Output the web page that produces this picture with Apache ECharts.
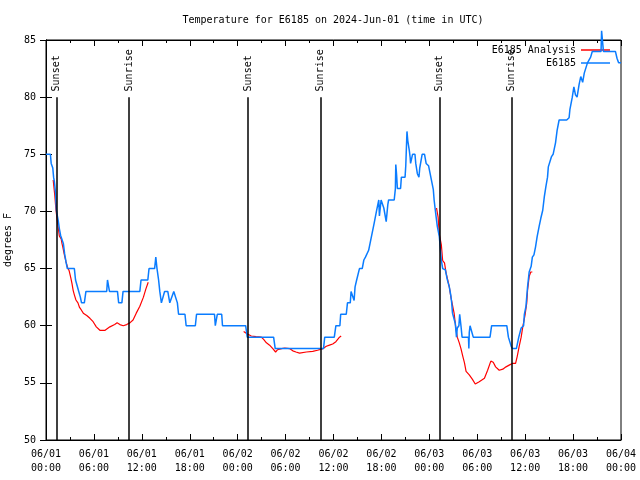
<!DOCTYPE html>
<html>
<head>
<meta charset="utf-8">
<script src="https://cdn.jsdelivr.net/npm/echarts@6/dist/echarts.min.js"></script>
<style>html,body{margin:0;padding:0;background:#fff}#c{width:640px;height:480px}</style>
</head>
<body>
<div id="c"></div>
<script>
// x values are hours since 2024-06-01 00:00 UTC
var xTickLabels = ['06/01\n00:00','06/01\n06:00','06/01\n12:00','06/01\n18:00','06/02\n00:00','06/02\n06:00','06/02\n12:00','06/02\n18:00','06/03\n00:00','06/03\n06:00','06/03\n12:00','06/03\n18:00','06/04\n00:00'];

// observed E6185 temperature [hour, degF]
var obsPoints = [[0,75],[0.55,75],[0.65,74.2],[0.85,73.8],[0.95,73],[1.05,72.6],[1.2,71.6],[1.3,70.1],[1.45,69.5],[1.55,69.1],[1.67,68.5],[1.83,67.9],[2.0,67.8],[2.17,67.2],[2.33,66.3],[2.5,65.6],[2.67,65],[3.55,65],[3.7,64],[3.9,64],[4.1,63],[4.3,62.5],[4.45,62],[4.8,62],[5.0,63],[7.6,63],[7.7,64],[7.85,64],[7.95,63],[8.95,63],[9.1,62],[9.5,62],[9.65,63],[11.75,63],[11.9,64],[12.75,64],[12.9,65],[13.6,65],[13.75,66],[13.9,65],[14.1,64],[14.25,63],[14.45,62],[14.6,62],[14.85,63],[15.25,63],[15.5,62],[15.65,62],[16.0,63],[16.25,63],[16.45,62],[16.6,61],[17.4,61],[17.55,60],[18.7,60],[18.85,61],[21.1,61],[21.2,60],[21.35,60],[21.45,61],[22.0,61],[22.1,60],[25.0,60],[25.2,59],[28.5,59],[28.7,58],[34.75,58],[34.9,59],[36.1,59],[36.3,60],[36.8,60],[36.9,61],[37.6,61],[37.75,62],[38.1,62],[38.2,63],[38.4,62.9],[38.58,62.2],[38.7,63.4],[38.9,64],[39.25,65],[39.6,65],[39.8,65.75],[40.0,66],[40.4,66.6],[40.75,67.8],[41.1,69],[41.4,70.1],[41.67,71],[41.75,69.6],[41.96,71],[42.3,70.3],[42.6,69.1],[42.8,70.6],[42.9,71],[43.6,71],[43.75,72],[43.8,74.1],[43.9,73.2],[44.0,72],[44.4,72],[44.5,73],[44.96,73],[45.05,74],[45.2,77],[45.25,76.9],[45.3,76.2],[45.5,75.3],[45.6,74.7],[45.65,74.2],[45.9,75],[46.2,75],[46.3,74.2],[46.5,73.3],[46.7,73],[46.8,73.8],[47.1,75],[47.4,75],[47.6,74.2],[47.9,74],[48.1,73.3],[48.3,72.6],[48.5,71.9],[48.6,71],[48.8,69.8],[49.0,68.7],[49.25,67.8],[49.5,65.75],[49.67,65],[50.0,64.9],[50.2,64.2],[50.3,63.9],[50.5,63.4],[50.7,62.6],[50.8,62],[50.9,61.1],[51.1,61],[51.25,60.2],[51.4,59],[51.5,59.8],[51.7,60],[51.8,61],[51.96,60],[52.1,59],[52.9,59],[52.95,58],[53.0,59.4],[53.1,60],[53.3,60],[53.5,59],[55.6,59],[55.8,60],[57.7,60],[57.9,59],[58.1,59],[58.25,58.2],[58.4,58],[58.9,58],[59.2,59],[59.4,59],[59.5,59.8],[59.8,60],[59.9,61],[60.1,61.7],[60.3,63.4],[60.5,64.7],[60.75,65.2],[60.9,66],[61.1,66.2],[61.3,66.9],[61.5,67.8],[61.75,68.7],[61.96,69.4],[62.2,70.1],[62.4,71.3],[62.6,72.2],[62.8,73],[62.9,73.9],[63.1,74],[63.3,74.8],[63.5,75],[63.75,75.1],[63.8,76],[64.0,77.1],[64.2,77.1],[64.25,78],[65.2,78],[65.5,78.2],[65.6,78.9],[65.8,79],[65.9,80],[66.1,80.9],[66.3,80.2],[66.5,80],[66.75,81.1],[66.96,81.8],[67.2,81.3],[67.4,82.1],[67.6,82.2],[67.8,83],[68.0,83.1],[68.2,83.5],[68.4,84],[69.5,84],[69.57,85.8],[69.72,85.8],[69.8,84],[71.3,84],[71.5,83.4],[71.7,83],[72.0,83]];

// analysis runs [hour, degF]
var anaRun1 = [[0.9,72.75],[1.1,71.4],[1.25,70.1],[1.45,69],[1.67,67.85],[1.9,67.6],[2.0,67.2],[2.1,66.9],[2.3,66.2],[2.5,65.6],[2.7,65.1],[2.9,64.8],[3.1,64.2],[3.25,63.7],[3.4,63.1],[3.55,62.7],[3.75,62.25],[4.0,62],[4.2,61.6],[4.4,61.4],[4.67,61.1],[5.1,60.9],[5.5,60.65],[5.9,60.35],[6.3,59.9],[6.75,59.6],[7.4,59.6],[8.0,59.9],[8.6,60.1],[8.9,60.25],[9.25,60.1],[9.67,60.0],[10.1,60.1],[10.5,60.25],[10.9,60.5],[11.3,61.1],[11.75,61.7],[12.2,62.5],[12.5,63.2],[12.8,63.8]];
var anaRun2 = [[24.75,59.5],[25.17,59.3],[25.7,59.1],[26.3,59.05],[26.96,59.0],[27.25,58.8],[27.6,58.5],[28.0,58.3],[28.4,58.0],[28.75,57.7],[29.0,57.9],[29.5,58.0],[29.9,58.05],[30.5,58.0],[30.9,57.8],[31.3,57.7],[31.75,57.6],[32.6,57.7],[33.4,57.75],[34.0,57.85],[34.7,58.0],[35.1,58.2],[35.5,58.3],[35.9,58.4],[36.3,58.6],[36.75,59.0],[36.96,59.1]];
var anaRun3 = [[48.9,70.3],[49.1,69.5],[49.25,68],[49.5,67.1],[49.67,65.7],[49.9,65.5],[50.1,64.6],[50.3,64.0],[50.5,63.4],[50.7,62.5],[50.9,61.8],[51.1,61.1],[51.3,59.9],[51.5,59],[51.75,58.5],[51.96,58],[52.2,57.3],[52.4,56.75],[52.6,56.0],[52.8,55.9],[53.0,55.7],[53.4,55.3],[53.75,54.9],[54.25,55.1],[54.9,55.4],[55.3,56.1],[55.7,56.9],[56.0,56.8],[56.3,56.4],[56.75,56.1],[57.2,56.2],[57.6,56.4],[58.0,56.55],[58.4,56.7],[58.8,56.7],[59.0,57.3],[59.25,58.2],[59.5,59.0],[59.7,59.9],[60.0,61],[60.2,62],[60.3,63.1],[60.5,64.3],[60.7,64.7],[60.9,64.7]];

var eventHours = [1.3,10.4,25.3,34.4,49.3,58.3];
var eventLabels = ['Sunset','Sunrise','Sunset','Sunrise','Sunset','Sunrise'];
var eventLineTop = 80;
var eventLabelBase = 80.5;

var FONT = 'DejaVu Sans Mono';
var RED = '#ff0000', BLUE = '#0a7cff';
var chart = echarts.init(document.getElementById('c'), null, {renderer:'canvas'});

var anaStyle = {type:'line', name:'E6185 Analysis', symbol:'none', showSymbol:false, color:RED, lineStyle:{color:RED, width:1.2}, animation:false, z:3};
var series = [
  Object.assign({}, anaStyle, {data: anaRun1}),
  Object.assign({}, anaStyle, {data: anaRun2}),
  Object.assign({}, anaStyle, {data: anaRun3}),
  {type:'line', name:'E6185', symbol:'none', showSymbol:false, color:BLUE, lineStyle:{color:BLUE, width:1.5}, clip:false, animation:false, z:4,
   data: obsPoints},
  {type:'line', name:'events', symbol:'none', data:[], animation:false, z:2,
   markLine:{symbol:'none', silent:true, animation:false, label:{show:false}, lineStyle:{color:'#000', width:1.5, type:'solid'},
     data: eventHours.map(function(h){ return [{coord:[h,50]},{coord:[h,eventLineTop]}]; })}},
  {type:'scatter', name:'eventLabels', symbol:'circle', symbolSize:2, itemStyle:{color:'rgba(0,0,0,0)'}, animation:false, silent:true, z:6,
   data: eventHours.map(function(h,i){ return {value:[h, eventLabelBase], name:eventLabels[i]}; }),
   label:{show:true, position:'inside', rotate:90, align:'left', verticalAlign:'middle', formatter:function(p){return p.name;},
     fontFamily:FONT, fontSize:10, color:'#000', opacity:1, textBorderWidth:0},
   labelLayout:{hideOverlap:false}}
];

var option = {
  backgroundColor:'#fff',
  animation:false,
  title:{text:'Temperature for E6185 on 2024-Jun-01 (time in UTC)', left:333, top:15, textAlign:'center', padding:0,
    textStyle:{fontFamily:FONT, fontSize:10, fontWeight:'normal', color:'#000'}},
  legend:{data:[{name:'E6185 Analysis', icon:'rect'},{name:'E6185', icon:'rect'}], orient:'vertical', align:'right', right:30, top:44, padding:0,
    itemWidth:29, itemHeight:1.5, itemGap:1,
    textStyle:{fontFamily:FONT, fontSize:10, color:'#000', lineHeight:12}, selectedMode:false},
  grid:{left:46, right:19, top:40, bottom:40, show:true, borderColor:'#000', borderWidth:1, backgroundColor:'transparent', containLabel:false, outerBoundsMode:'none'},
  xAxis:[
    {type:'value', min:0, max:72, interval:6, position:'bottom',
     axisLine:{show:true, lineStyle:{color:'#000'}}, splitLine:{show:false},
     axisTick:{show:true, inside:true, length:6, lineStyle:{color:'#000'}},
     minorTick:{show:true, splitNumber:2, length:3, lineStyle:{color:'#000'}},
     axisLabel:{margin:7, lineHeight:14, fontFamily:FONT, fontSize:10, color:'#000', formatter:function(v){ return xTickLabels[Math.round(v/6)]; }}},
    {type:'value', min:0, max:72, interval:6, position:'top',
     axisLine:{show:true, lineStyle:{color:'#000'}}, splitLine:{show:false},
     axisTick:{show:true, inside:true, length:6, lineStyle:{color:'#000'}},
     minorTick:{show:true, splitNumber:2, length:3, lineStyle:{color:'#000'}},
     axisLabel:{show:false}}
  ],
  yAxis:[
    {type:'value', min:50, max:85, interval:5, position:'left', name:'degrees F', nameLocation:'middle', nameGap:31,
     nameTextStyle:{fontFamily:FONT, fontSize:10, color:'#000'},
     axisLine:{show:true, lineStyle:{color:'#000'}}, splitLine:{show:false},
     axisTick:{show:true, inside:true, length:6, lineStyle:{color:'#000'}},
     axisLabel:{margin:10, fontFamily:FONT, fontSize:10, color:'#000'}},
    {type:'value', min:50, max:85, interval:5, position:'right',
     axisLine:{show:true, lineStyle:{color:'#000'}}, splitLine:{show:false},
     axisTick:{show:true, inside:true, length:6, lineStyle:{color:'#000'}},
     axisLabel:{show:false}}
  ],
  series: series
};
chart.setOption(option);
</script>
</body>
</html>
